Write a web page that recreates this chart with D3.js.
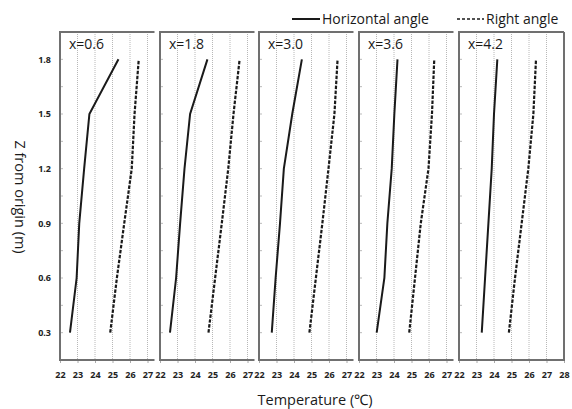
<!DOCTYPE html>
<html>
<head>
<meta charset="utf-8">
<script src="https://cdn.jsdelivr.net/npm/d3@7"></script>
<style>
  body { margin: 0; background: #fff; }
  svg { display: block; font-family: "Open Sans", "Liberation Sans", sans-serif; }
</style>
</head>
<body>
<svg id="chart" width="572" height="409"></svg>
<script>
// heights (m) shared by every panel
const heights = [0.3, 0.6, 0.9, 1.2, 1.5, 1.8];
const panelNames = ['x=0.6', 'x=1.8', 'x=3.0', 'x=3.6', 'x=4.2'];

// temperature (°C) per panel, bottom to top
const horizontalAngle = [
    [22.57, 22.95, 23.1, 23.38, 23.68, 25.34],
    [22.57, 22.92, 23.15, 23.4, 23.72, 24.71],
    [22.73, 22.95, 23.2, 23.42, 23.9, 24.45],
    [23.01, 23.45, 23.62, 23.87, 24.02, 24.2],
    [23.3, 23.49, 23.68, 23.87, 24.0, 24.19]
];
const rightAngle = [
    [24.87, 25.25, 25.67, 26.1, 26.26, 26.5],
    [24.77, 25.15, 25.53, 25.9, 26.2, 26.55],
    [24.88, 25.25, 25.62, 25.97, 26.31, 26.49],
    [24.87, 25.2, 25.53, 25.97, 26.17, 26.3],
    [24.85, 25.2, 25.58, 25.96, 26.25, 26.4]
];

const yTicks = [0.3, 0.6, 0.9, 1.2, 1.5, 1.8];
const xTicksShort = [22, 23, 24, 25, 26, 27];
const xTicksLast = [22, 23, 24, 25, 26, 27, 28];

const svg = d3.select('#chart');

// layout of the five panels (left edges in px)
const panelLeft = [60, 160, 259, 359, 459];
const plotTop = 32, plotBottom = 360;
const pxPerDeg = 17.5;
const borderColor = '#707070';
const ink = '#1a1a1a';

const y = d3.scaleLinear().domain([0.15, 1.95]).range([plotBottom, plotTop]);

panelNames.forEach(function (name, i) {
    let last = (i === panelNames.length - 1);
    let xDomain = last ? [22, 28] : [22, 27.4];
    let x0 = panelLeft[i];
    let x = d3.scaleLinear().domain(xDomain).range([x0, x0 + (xDomain[1] - xDomain[0]) * pxPerDeg]);
    let xTicks = last ? xTicksLast : xTicksShort;

    let g = svg.append('g').attr('class', 'panel');

    // dotted vertical gridlines
    g.selectAll('.grid').data(xTicks.filter(t => t > 22 && t < xDomain[1]))
        .enter().append('line')
        .attr('x1', d => x(d)).attr('x2', d => x(d))
        .attr('y1', plotTop).attr('y2', plotBottom)
        .attr('stroke', '#b8b8b8').attr('stroke-width', 1)
        .attr('stroke-dasharray', '1,1');

    // small y ticks inside the left border
    let minor = d3.range(0.3, 1.95, 0.15);
    g.selectAll('.ytick').data(minor).enter().append('line')
        .attr('x1', x0).attr('x2', x0 + 3)
        .attr('y1', d => y(d)).attr('y2', d => y(d))
        .attr('stroke', '#bbb').attr('stroke-width', 1);

    // x axis
    let xAxis = d3.axisBottom(x).tickValues(xTicks).tickSize(3).tickSizeOuter(0).tickFormat(d3.format('d'));
    let ax = g.append('g').attr('transform', 'translate(0,' + plotBottom + ')').call(xAxis);
    ax.select('.domain').remove();
    ax.selectAll('.tick line').attr('stroke', '#aaa');
    ax.selectAll('.tick text').attr('y', 12).attr('font-size', '9px').attr('font-weight', 'bold')
        .attr('fill', '#222').attr('font-family', '"Open Sans", sans-serif');

    // panel border
    let xr = x(xDomain[1]);
    let path = 'M' + xr + ',' + plotTop + 'H' + x0 + 'V' + plotBottom + 'H' + xr;
    if (last) path += 'V' + plotTop;
    g.append('path').attr('d', path).attr('fill', 'none')
        .attr('stroke', borderColor).attr('stroke-width', 2);

    // lines
    let line = d3.line().x(d => x(d[0])).y(d => y(d[1]));
    g.append('path').datum(horizontalAngle[i].map((t, k) => [t, heights[k]]))
        .attr('d', line).attr('fill', 'none').attr('stroke', ink).attr('stroke-width', 2);
    g.append('path').datum(rightAngle[i].map((t, k) => [t, heights[k]]))
        .attr('d', line).attr('fill', 'none').attr('stroke', ink).attr('stroke-width', 2.2)
        .attr('stroke-dasharray', '3.5,1.5');

    g.append('text').attr('x', x0 + 9).attr('y', 49).text(name)
        .attr('font-size', '14px').attr('fill', ink);
});

// y axis tick labels (left panel only)
let yAxis = d3.axisLeft(y).tickValues(yTicks).tickSize(0).tickFormat(d3.format('.1f'));
let yAx = svg.append('g').attr('transform', 'translate(51,0)').call(yAxis);
yAx.select('.domain').remove();
yAx.selectAll('.tick text').attr('x', 0).attr('font-size', '9px').attr('font-weight', 'bold')
    .attr('fill', '#222').attr('font-family', '"Open Sans", sans-serif');

// axis titles
svg.append('text').attr('transform', 'translate(15,197) rotate(90)')
    .attr('text-anchor', 'middle').attr('font-size', '14.5px').attr('fill', ink)
    .text('Z from origin (m)');
svg.append('text').attr('x', 315).attr('y', 405)
    .attr('text-anchor', 'middle').attr('font-size', '14.5px').attr('fill', ink)
    .text('Temperature (\u2103)');

// legend
let legend = svg.append('g');
legend.append('line').attr('x1', 292).attr('x2', 320).attr('y1', 19).attr('y2', 19)
    .attr('stroke', ink).attr('stroke-width', 2);
legend.append('text').attr('x', 322).attr('y', 24).attr('font-size', '14px').attr('fill', ink)
    .text('Horizontal angle');
legend.append('line').attr('x1', 457).attr('x2', 484).attr('y1', 19).attr('y2', 19)
    .attr('stroke', ink).attr('stroke-width', 1.5).attr('stroke-dasharray', '3,2');
legend.append('text').attr('x', 486).attr('y', 24).attr('font-size', '14px').attr('fill', ink)
    .text('Right angle');
</script>
</body>
</html>
